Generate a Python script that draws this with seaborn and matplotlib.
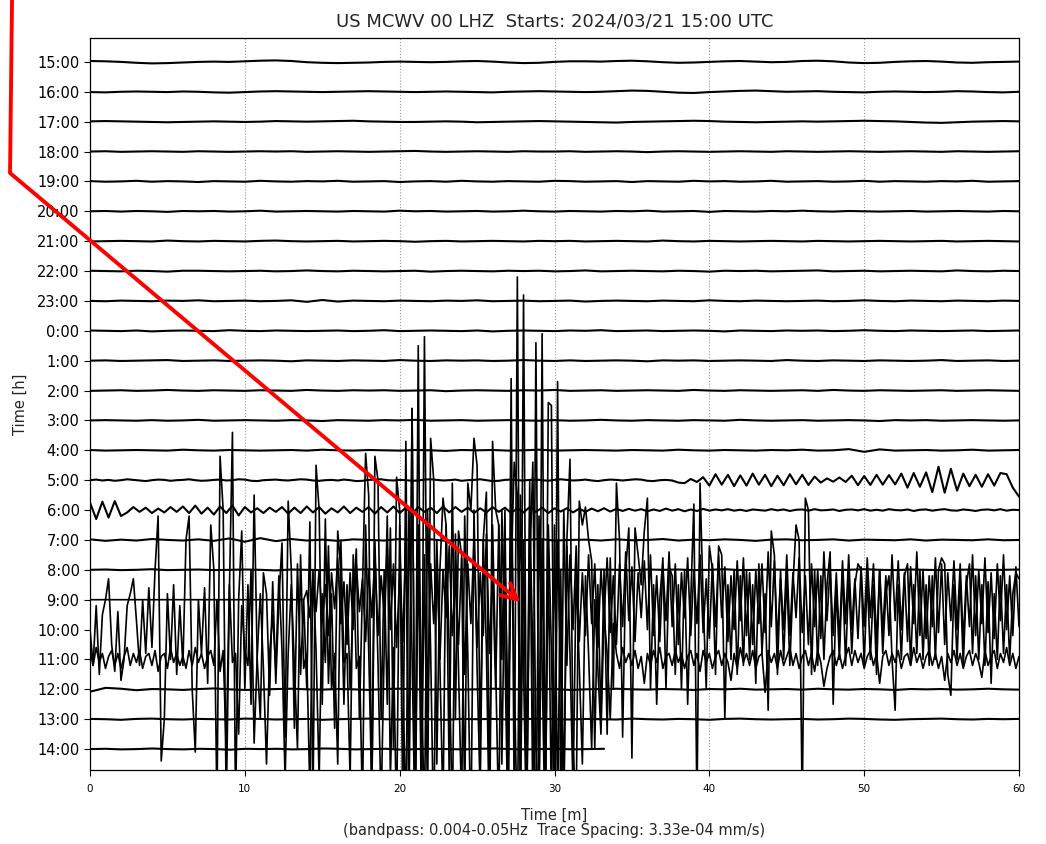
import numpy as np
import pandas as pd
import matplotlib
matplotlib.use("Agg")
import matplotlib.pyplot as plt
import seaborn as sns
from matplotlib.lines import Line2D

# ---------------- data ----------------
hour_labels = ["15:00", "16:00", "17:00", "18:00", "19:00", "20:00", "21:00", "22:00",
               "23:00", "0:00", "1:00", "2:00", "3:00", "4:00", "5:00", "6:00", "7:00",
               "8:00", "9:00", "10:00", "11:00", "12:00", "13:00", "14:00"]
trace_end_min = [60, 60, 60, 60, 60, 60, 60, 60, 60, 60, 60, 60, 60, 60, 60, 60, 60, 60,
                 60, 60, 60, 60, 60, 33.2]
x_ticks = [0, 10, 20, 30, 40, 50, 60]

# quiet traces, amplitude in hundredths of trace spacing
tr_1500 = [3,2,0,-3,-5,-4,-2,0,1,0,2,4,5,3,-1,-3,-4,-3,-2,0,1,0,-1,0,2,3,1,-2,-4,-3,0,2,2,1,3,4,2,-1,-3,-2,0,2,3,1,-1,0,3,4,2,-2,-4,-3,0,2,3,1,-2,-3,-1,0,1]
tr_1600 = [-1,-2,0,1,0,-1,1,0,-2,-3,-1,1,2,1,0,-1,0,1,2,1,0,-1,0,1,0,-1,-2,0,1,2,1,0,-1,0,2,4,3,0,-3,-4,-1,1,3,4,2,0,1,2,0,-1,-2,0,1,0,-1,0,2,1,-1,-2,0]
tr_1700 = [1,2,1,0,-1,-2,-1,0,1,0,-1,0,2,1,0,1,2,3,1,0,-1,-1,0,1,0,-2,-1,0,1,2,1,0,-1,-2,-3,-1,0,1,2,3,2,0,-1,-2,-1,0,1,0,1,2,3,2,1,-1,-3,-4,-2,0,1,2,1]
tr_1800 = [0,1,-1,0,1,0,-1,1,0,-1,0,1,0,1,-1,0,1,0,-1,0,1,2,0,-1,0,1,0,-1,1,0,0,1,-1,0,1,0,-2,0,1,0,-1,0,1,0,-1,1,0,-1,0,1,0,-1,0,1,0,-1,1,0,-1,0,1]
tr_1900 = [1,-1,0,2,-1,1,0,-2,1,0,-1,2,0,-1,1,0,2,-1,0,1,-2,0,1,-1,2,0,-1,1,0,-1,2,1,-1,0,1,-2,1,0,-1,2,0,1,-1,0,2,-1,0,1,-1,0,2,-1,1,0,-1,1,0,2,-1,0,1]
tr_2000 = [0,1,-1,1,0,-2,1,0,1,-1,0,2,-1,0,1,0,-1,1,0,-1,2,0,1,-1,0,1,-1,0,2,0,-1,1,0,-1,1,0,2,-1,0,1,-2,1,0,-1,1,0,2,0,-1,1,0,-1,0,1,-1,0,1,0,-1,1,0]
tr_2100 = [-1,0,1,0,-1,2,0,-1,1,0,-1,1,2,0,-1,0,1,-1,0,1,0,-2,0,1,-1,0,1,0,-1,1,0,1,-1,0,1,0,-1,2,0,-1,1,0,-1,0,1,0,-1,1,0,-1,0,1,0,-1,0,1,-1,0,1,0,-1]
tr_2200 = [1,0,-1,1,0,-2,1,1,0,-1,0,1,-1,0,2,0,-1,1,0,-1,0,1,-2,0,1,0,-1,1,0,1,-1,0,2,-1,0,1,0,-1,1,0,-2,1,0,1,-1,0,1,2,-1,0,1,-1,0,1,0,-1,2,0,-1,1,0]
tr_2300 = [0,-1,1,0,-1,1,0,2,-1,0,1,-1,0,2,-3,3,-2,1,0,-1,1,0,-1,1,0,2,-1,0,1,-1,0,1,-2,0,1,0,-1,1,0,-1,2,0,-1,1,0,-1,0,1,-1,0,2,0,-1,1,0,-1,1,0,-1,1,0]
tr_0000 = [1,0,-1,1,-2,0,1,0,-1,2,0,-1,1,0,-1,0,1,-1,0,2,-1,0,1,0,-1,1,-2,0,1,0,-1,1,0,2,-1,0,1,-1,0,1,0,-2,1,0,-1,1,0,1,-1,0,2,0,-1,1,0,-1,0,1,-1,0,1]
tr_0100 = [0,1,-1,0,1,2,-1,0,1,-1,0,1,0,-2,1,0,-1,1,0,-1,2,0,-1,1,0,1,-1,0,2,0,-1,1,-1,0,1,0,-2,1,0,1,-1,0,1,0,-1,2,0,-1,1,0,-1,1,0,-1,0,2,-1,0,1,-1,0]
tr_0200 = [-1,0,1,-1,0,2,0,-1,1,0,-1,1,0,-1,2,0,-1,1,0,1,-1,0,1,-2,0,1,0,-1,1,0,2,-1,0,1,-1,0,1,0,-1,2,0,-1,1,0,-1,0,1,-1,2,0,-1,1,0,-1,0,1,-1,0,1,0,-1]
tr_0300 = [0,1,0,-1,1,-1,0,2,-1,0,1,0,-1,1,0,-2,1,0,-1,1,0,2,-1,0,1,-1,0,1,0,-1,1,-1,0,2,0,-1,1,0,-1,1,0,-1,2,0,-1,0,1,-1,0,1,0,-2,1,0,1,-1,0,1,0,-1,0]
tr_0400 = [1,-1,0,1,0,-1,2,0,-1,1,0,-1,0,1,-1,2,0,-1,1,0,-1,1,0,-2,1,0,1,-1,0,2,-1,0,1,0,-1,1,0,-1,2,0,-1,1,0,-1,1,0,2,-1,0,4,-5,3,-1,0,1,-1,0,2,-1,0,1]
tr_0500 = [0,2,-1,1,-2,0,3,1,-1,-3,0,2,1,-2,0,1,3,0,-2,-1,1,2,-1,0,3,2,-2,-3,0,1,2,0,-1,1,3,2,-1,-2,0,1,-1,2,0,-3,-2,1,2,3,0,-1,1,0,-2,-1,2,3,1,-1,0,2,-2,0,1,3,0,-3,-2,1,2,0,-1,1,2,0,-2,1,3,1,-1,0,2,-1,-3,0,2,1,-1,1,3,2,-2,-3,0,1,-1,
           -8,-10,4,-6,10,
           -18,20,-15,18,-20,16,-18,22,-15,18,-20,15,-17,20,-14,18,-16,12,
           -8,6,-5,9,-6,
           15,-17,14,-16,18,-15,17,-14,
           22,-25,24,-22,26,
           -40,45,-42,38,-35,
           22,-20,18,-22,20,-18,24,20,-25,-55]
tr_0600 = [25,-30,28,-25,30,-20,
           -8,10,-6,8,-10, 5,-8,10,-6,12, -10,15,-12,8,-15, 12,-10,15,-18,10,
           -8,6,-10,8,-6, 10,-12,8,-10,12, -8,10,-12,6,-8, 12,-10,8,-6,10,
           -12,10,-8,12,-10, 8,-12,10,-6,8, -10,12,-8,10,-6, 8,-10,6,-8,10,
           -6,8,-10,6,-8, 10,-6,8,-10,6, -5,6,-8,5,-6, 5,-4,6,-5,4,
           -3,4,-2,3,-4,2,-3,5,-2,3,-4,2,-3,4,-2,
           2,-1,3,-2,1,-3,2,0,-2,3,-1,2,-3,1,2,-2,3,-1,0,2,-3,1,2,-1,3,
           -2,1,-2,3,0,-1,2,-3,1,2,-2,1,3,-1,-2,2,0,-3,1,2,-1,3,-2,1,0]
tr_0700 = [2,-3,1,-2,3,0,-2,2,-3,5,-6,6,-4,3,-2,1,-3,2,0,-2,3,-1,2,-3,1,0,-2,2,-1,3,-2,0,1,-2,2,-1,0,3,-2,1,-1,2,0,-3,1,2,-1,0,2,-2,1,0,-1,2,-2,1,0,-1,2,-1,0]
tr_0800 = [0,1,-1,0,2,-1,0,1,-1,0,1,0,-2,1,0,-1,1,0,2,-1,0,1,-1,0,1,0,-1,2,0,-1,1,0,-1,1,0,-2,1,0,1,-1,0,2,-1,0,1,0,-1,1,-1,0,2,0,-1,1,0,-1,0,1,-1,0,1]

# active traces, amplitude in tenths of trace spacing, 0.2 min sampling
tr_0900 = [0,0,0,0,0,0,0,0,0,0, 0,0,0,0,0,0,0,0,0,0, 0,0,0,0,0,0,0,0,0,0,
           0,0,0,0,0,0,0,0,0,0, 0,0,0,0,0,0,0,0,0,0, 0,0,0,0,0,0,0,0,0,0,
           0,0,0,0,0,0,0,0,0,0,
           3,-6,8,-4,10,-7,5,-12,9,-3, 14,-8,6,-15,9,-10,12,-4,7,-14,
           10,-6,15,-12,8,-5,18,-10,12,-16, 9,-14,20,-70,64,-70,85,-70,88,-40,
           12,-8,15,-20,10,-6,18,-12,7,-15, 14,-25,12,-8,20,-16,9,-12,22,-18,
           10,-30,25,-20,30,-70,74,-70,108,-70, 102,-70,40,-70,86,-70,89,-70,66,65,
           -70,73,-70,30,-22,15,-10,18,-14,9,
           -12,15,-8,12,-16,10,-6,14,-11,8, -15,12,-9,16,-7,11,-14,9,-6,13,
           -10,15,-12,8,-14,11,-7,16,-9,12, -15,9,-6,14,-12,10,-8,15,-11,7,
           -13,12,-9,15,-6,11,-14,8,-10,13, -7,14,-12,9,-15,10,-8,12,-11,16,
           -9,13,-14,7,-10,15,-12,9,-6,14, -11,8,-15,12,-9,10,-13,16,-7,11,
           -12,9,-14,13,-8,15,-10,7,-13,11, -9,14,-6,12,-15,10,-11,8,-12,15,
           -7,13,-10,9,-14,11,-8,16,-12,10, -13,8,-9,14,-11,12,-15,9,-7,13,
           -10,12,-14,8,-9,15,-12,10,-8,14, -11,9,-13,12,-7,15,-10,8,-12,11,-9]
tr_1000 = [0,-12,8,-15,5,10,17,-5,-14,6, -17,-10,8,12,17,3,-12,10,-8,14,
           -6,20,38,-44,-30,12,-10,15,-15,8, -12,30,38,-20,-41,10,-8,14,-18,35,
           20,-60,58,40,-60,12,66,-60,10,33, -20,15,-25,45,-10,-30,19,12,-22,16,
           -18,10,29,-36,43,20,-33,22,-15,10, -20,36,-60,55,40,-25,37,-18,12,-33,
           33,20,-25,15,-20,10,27,-30,15,59, 45,-60,58,50,-30,20,-25,34,-40,51,
           40,-60,63,-60,74,-60,30,-60,25,-60, 64,50,-45,20,44,35,-50,49,-30,33,
           25,-60,49,40,64,55,-40,30,46,-60, 63,40,35,-45,25,-30,20,56,45,-60,
           30,-60,20,56,-40,-60,30,-60,25,-60, 35,-60,20,-60,30,57,-40,-60,43,35,
           41,30,23,-40,15,-30,20,-35,24,-20, 49,30,-36,20,34,-43,34,25,15,33,
           44,-20,15,-25,10,24,-20,21,18,-15, 15,-20,20,-25,10,42,-60,49,10,-20,
           28,20,-15,28,25,-30,15,-10,20,-15, 18,-12,20,-10,15,-18,22,-8,12,-27,
           33,25,-15,20,-10,18,-12,15,35,30, -60,44,40,-15,20,-12,18,-10,15,26,
           -25,15,-10,20,-12,18,-8,15,22,20, -12,18,-10,15,-15,20,-8,12,18,-10,
           -27,15,-10,18,22,-12,15,-8,20,-10, 15,-12,18,-10,20,24,22,-15,-22,15,
           -10,18,-12,15,22,-8,18,-10,15,-12, 16,-18,12,-10,18,-8,15,-10,12,19,17]
tr_1100 = [3,-2,4,-1,2,-3,1,3,-2,2, -3,1,4,-2,2,-1,3,-3,1,2, -2,3,-4,1,2,-3,4,-1,2,-2,
           1,-3,3,-2,4,-1,2,-3,1,3,
           -2,20,-4,3,-30,25,-1,2,-25,18, 3,-2,30,-28,1,22,-3,-35,2,15,
           -3,28,3,-40,2,25,-2,-30,35,-3, 2,-45,30,3,-40,22,-1,38,-10,2,
           -35,40,-1,2,-40,35,-3,1,-50,45, 3,-45,40,-1,-50,3,48,-40,4,-55,
           45,-3,-55,50,2,-60,45,-4,-55,50, 3,-60,40,-2,-50,45,3,-55,42,-3,
           -50,48,2,-60,50,-3,-45,40,4,-60, 45,-2,-55,50,3,-60,52,-4,-60,55,
           -3,-60,50,2,-60,48,-2,-60,45,3, -55,40,-3,-50,38,2,-45,30,-3,-35,
           28,2,-30,20,-3,-25,15,2,-20,12,
           2,-3,4,-1,2,-2,3,-3,1,-8,
           2,-2,3,-1,4,-3,1,2,-2,3, -1,2,-3,1,3,-2,2,-4,3,-1, 2,-3,1,3,-2,2,-1,-7,2,-3,
           4,-1,2,-2,3,-3,1,2,-11,3, -1,2,-3,3,-2,1,4,-2,2,-3, 1,3,-2,2,-4,3,-1,-9,-3,1,
           3,-2,2,-3,1,4,-2,3,-1,2, -3,1,3,-2,2,-8,1,3,-2,2, -1,3,-3,1,2,-2,4,-1,2,-3,
           1,3,-2,2,-3,1,-7,2,-1,3, -2,2,-3,1,3,-2,2,-1,-6,3, -2,1,3,-3,2,-1,4,-2,2,-3,1]
tr_1200 = [-8,5,2,-3,1,0,-2,1,3,0,-2,-1,1,2,0,-1,1,0,-2,1,2,0,-1,1,-1,0,2,1,-1,0,1,-2,0,1,2,0,-1,1,0,-2,1,0,2,-1,0,1,-1,2,0,-1,1,0,-2,1,0,1,-1,0,2,0,-1]
tr_1300 = [1,0,-2,1,2,0,-1,1,0,-1,2,1,-1,0,1,-2,0,1,2,0,-1,1,0,-2,1,0,1,-1,0,2,0,-1,1,0,-1,2,0,-1,1,0,-2,1,2,0,-1,0,1,-1,0,2,1,-1,-2,0,1,2,0,-1,1,0,1]
tr_1400 = [0,1,-1,0,2,0,-1,1,0,-2,1,0,1,-1,0,2,1,-1,0,1,-2,0,1,0,-1,1,2,0,-1,0,1,-1,0,1]

traces = [tr_1500, tr_1600, tr_1700, tr_1800, tr_1900, tr_2000, tr_2100, tr_2200, tr_2300,
          tr_0000, tr_0100, tr_0200, tr_0300, tr_0400, tr_0500, tr_0600, tr_0700, tr_0800,
          tr_0900, tr_1000, tr_1100, tr_1200, tr_1300, tr_1400]
trace_unit = [0.01] * 18 + [0.1, 0.1, 0.1] + [0.01, 0.01, 0.01]

# ---------------- long-form table ----------------
rows = []
for i, (vals, unit, tend) in enumerate(zip(traces, trace_unit, trace_end_min)):
    v = np.asarray(vals, dtype=float) * unit
    t = np.linspace(0, tend, len(v))
    rows.append(pd.DataFrame({"t": t, "y": -i + v, "trace": i, "active": unit > 0.05}))
df = pd.concat(rows, ignore_index=True)

# ---------------- plot ----------------
sns.set_theme(style="ticks")
plt.rcParams["font.family"] = ["DejaVu Sans"]

fig = plt.figure(figsize=(10.46, 8.44), dpi=100)
ax = fig.add_axes([90 / 1046, 1 - 770 / 844, (1019 - 90) / 1046, (770 - 38) / 844])

sns.lineplot(data=df[~df["active"]], x="t", y="y", units="trace", estimator=None, sort=False,
             color="black", linewidth=1.5, ax=ax, legend=False)
sns.lineplot(data=df[df["active"]], x="t", y="y", units="trace", estimator=None, sort=False,
             color="black", linewidth=1.2, ax=ax, legend=False)

ax.set_xlim(0, 60)
ax.set_ylim(-23.70, 0.80)
ax.set_xticks(x_ticks)
ax.set_xticklabels([str(v) for v in x_ticks], fontsize=7.5)
ax.set_yticks([-i for i in range(len(hour_labels))])
ax.set_yticklabels(hour_labels, fontsize=10.5)
ax.tick_params(axis="both", direction="out", length=4, width=0.8, colors="black")
ax.tick_params(axis="x", pad=6)
ax.grid(axis="x", linestyle=":", color="0.6", linewidth=0.8)
ax.grid(axis="y", visible=False)
for s in ax.spines.values():
    s.set_color("black")
    s.set_linewidth(0.9)

ax.set_title("US MCWV 00 LHZ  Starts: 2024/03/21 15:00 UTC", fontsize=13, pad=8)
ax.set_xlabel("Time [m]\n(bandpass: 0.004-0.05Hz  Trace Spacing: 3.33e-04 mm/s)",
              fontsize=10.5, labelpad=10, linespacing=1.0)
ax.set_ylabel("Time [h]", fontsize=10.5, labelpad=7)

# red annotation arrow
fig.add_artist(Line2D([0.0115, 0.0096], [1.0, 1 - 173 / 844], transform=fig.transFigure,
                      color="red", linewidth=2.8, solid_capstyle="butt"))
ax.annotate("", xy=(27.8, -18.08), xycoords="data",
            xytext=(0.0096, 1 - 173 / 844), textcoords="figure fraction",
            arrowprops=dict(arrowstyle="->", color="red", lw=2.8, mutation_scale=28,
                            shrinkA=0, shrinkB=0),
            annotation_clip=False)

fig.savefig("out.png", dpi=100)
